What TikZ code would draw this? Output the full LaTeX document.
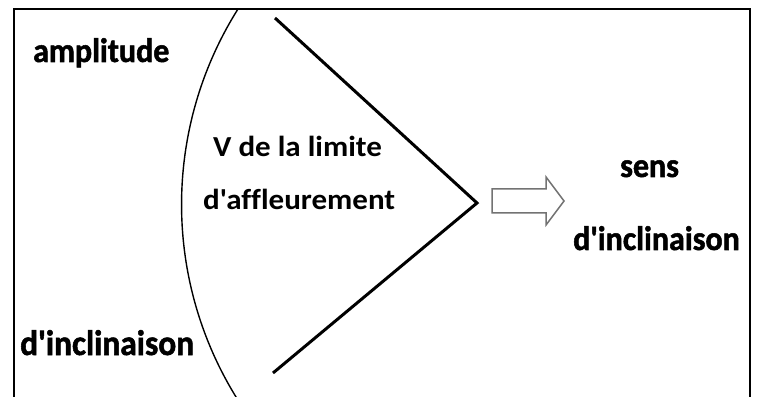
\documentclass[tikz,border=0pt]{standalone}
\usepackage{fontspec}
\newfontfamily\sidefont{Carlito}[Ligatures=NoCommon, BoldFont=*-Bold, BoldFeatures={FakeBold=1.5, FakeStretch=0.94}]
\newfontfamily\midfont{Carlito}[Ligatures=NoCommon, BoldFont=*-Bold, BoldFeatures={FakeStretch=1.07}]
\begin{document}
\begin{tikzpicture}[x=1pt,y=1pt,
  side/.style={inner sep=0pt, anchor=base west, font=\sidefont\bfseries\fontsize{34}{38}\selectfont},
  sidebig/.style={side, font=\sidefont\bfseries\fontsize{35.5}{40}\selectfont},
  mid/.style={inner sep=0pt, anchor=base west, font=\midfont\bfseries\fontsize{29}{34}\selectfont},
  vline/.style={line width=3pt, line join=miter},
  hollow/.style={draw=black!55, line width=1.5pt, fill=white}]
\useasboundingbox (0,0) rectangle (762,396);
\clip (0,0) rectangle (762,396);
\fill[white] (0,0) rectangle (762,396);
% frame
\draw[line width=2.6pt] (14,-20) -- (14,387) -- (750,387) -- (750,-20);
% arc
\draw[line width=1.4pt] (238,387) arc[start angle=147.8, end angle=213, radius=367];
% V
\coordinate (vtop) at (275,378);
\coordinate (vtip) at (477,193);
\coordinate (vbot) at (273,23);
\draw[vline] (vtop) -- (vtip) -- (vbot);
% hollow arrow
\draw[hollow] (492,207) -- (546,207) -- (546,219) -- (564,195) -- (546,171) -- (546,183) -- (492,183) -- cycle;
% labels
\node[side] (amp) at (33,334) {amplitude};
\node[sidebig] (incl) at (20,41) {d'inclinaison};
\node[mid] (v1) at (213,239) {V de la limite};
\node[mid] (v2) at (203,186) {d'affleurement};
\node[side] (sens) at (620,219) {sens};
\node[side] (incr) at (573,146) {d'inclinaison};
\end{tikzpicture}
\end{document}
